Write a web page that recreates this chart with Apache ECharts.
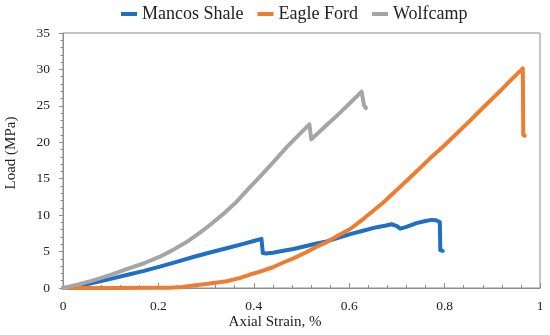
<!DOCTYPE html>
<html>
<head>
<meta charset="utf-8">
<script src="https://cdn.jsdelivr.net/npm/echarts@6/dist/echarts.min.js"></script>
<style>html,body{margin:0;padding:0;background:#fff}#c{width:550px;height:335px}</style>
</head>
<body>
<div id="c"></div>
<script>
const seriesNames = ['Mancos Shale', 'Eagle Ford', 'Wolfcamp'];
const xTicks = [0, 0.2, 0.4, 0.6, 0.8, 1];
const yTicks = [0, 5, 10, 15, 20, 25, 30, 35];

const mancosStrain = [0, 0.03, 0.0635, 0.10, 0.1335, 0.17, 0.203, 0.24, 0.273, 0.31, 0.343, 0.38, 0.40, 0.416, 0.419, 0.426, 0.44, 0.462, 0.483, 0.532, 0.553, 0.602, 0.623, 0.658, 0.675, 0.689, 0.70, 0.707, 0.72, 0.741, 0.76, 0.773, 0.782, 0.790, 0.791, 0.796];
const mancosLoad   = [0, 0.25, 0.73, 1.25, 1.78, 2.35, 2.93, 3.62, 4.25, 4.9, 5.45, 6.1, 6.45, 6.75, 4.8, 4.75, 4.85, 5.1, 5.35, 6.1, 6.4, 7.4, 7.75, 8.35, 8.55, 8.75, 8.5, 8.15, 8.4, 8.9, 9.2, 9.35, 9.3, 9.05, 5.2, 5.1];

const eagleStrain = [0, 0.1, 0.2, 0.224, 0.25, 0.273, 0.30, 0.343, 0.37, 0.392, 0.413, 0.44, 0.462, 0.483, 0.51, 0.532, 0.553, 0.570, 0.602, 0.63, 0.671, 0.707, 0.741, 0.776, 0.80, 0.846, 0.88, 0.916, 0.94, 0.964, 0.965, 0.968];
const eagleLoad   = [0, 0, 0.02, 0.05, 0.15, 0.35, 0.55, 0.93, 1.35, 1.85, 2.24, 2.85, 3.5, 4.07, 4.9, 5.67, 6.3, 6.95, 8.1, 9.5, 11.7, 13.9, 16.0, 18.2, 19.6, 22.5, 24.7, 27.0, 28.6, 30.15, 21.0, 20.9];

const wolfStrain = [0, 0.03, 0.0635, 0.10, 0.1335, 0.17, 0.203, 0.23, 0.259, 0.285, 0.308, 0.335, 0.364, 0.39, 0.413, 0.44, 0.47, 0.497, 0.5165, 0.5205, 0.55, 0.58, 0.605, 0.626, 0.631, 0.635];
const wolfLoad   = [0, 0.45, 1.05, 1.8, 2.6, 3.4, 4.3, 5.2, 6.3, 7.5, 8.65, 10.1, 11.85, 13.7, 15.3, 17.2, 19.4, 21.2, 22.45, 20.4, 22.2, 24.0, 25.6, 26.95, 25.1, 24.7];

const colors = ['#1f6fc2', '#ed7d31', '#a5a5a5'];
const font = "'Liberation Serif', 'Times New Roman', serif";

function pairs(xs, ys) { return xs.map((x, i) => [x, ys[i]]); }
const allData = [pairs(mancosStrain, mancosLoad), pairs(eagleStrain, eagleLoad), pairs(wolfStrain, wolfLoad)];

const chart = echarts.init(document.getElementById('c'), null, {renderer: 'canvas'});
chart.setOption({
  animation: false,
  color: colors,
  textStyle: {fontFamily: font},
  grid: {left: 63, right: 10, top: 33, bottom: 47, show: true, borderColor: '#8c8c8c', borderWidth: 1, backgroundColor: 'transparent'},
  legend: {
    data: seriesNames,
    left: 116, top: 0,
    icon: 'rect', itemWidth: 16, itemHeight: 4, itemGap: 14,
    textStyle: {fontFamily: font, fontSize: 18, color: '#222'}
  },
  xAxis: {
    type: 'value', min: xTicks[0], max: xTicks[xTicks.length - 1], interval: 0.2,
    axisLine: {show: true, lineStyle: {color: '#8c8c8c', width: 1}},
    axisTick: {show: true, inside: true, length: 5, lineStyle: {color: '#8c8c8c'}},
    minorTick: {show: true, splitNumber: 5, length: 3, lineStyle: {color: '#8c8c8c'}},
    splitLine: {show: false},
    axisLabel: {fontFamily: font, fontSize: 13.5, color: '#222', margin: 11}
  },
  yAxis: {
    type: 'value', min: yTicks[0], max: yTicks[yTicks.length - 1], interval: 5,
    axisLine: {show: true, lineStyle: {color: '#8c8c8c', width: 1}},
    axisTick: {show: true, inside: false, length: 4, lineStyle: {color: '#8c8c8c'}},
    minorTick: {show: true, splitNumber: 5, length: 2.5, lineStyle: {color: '#8c8c8c'}},
    splitLine: {show: false},
    axisLabel: {fontFamily: font, fontSize: 13.5, color: '#222', margin: 13}
  },
  graphic: [
    {type: 'text', left: 'center', top: 315, style: {text: 'Axial Strain, %', font: "15px 'Liberation Serif', serif", fill: '#222'}},
    {type: 'text', x: 4, y: 153, rotation: Math.PI / 2, style: {text: 'Load (MPa)', font: "15px 'Liberation Serif', serif", fill: '#222', align: 'center', verticalAlign: 'top'}}
  ],
  series: seriesNames.map((n, i) => ({
    name: n, type: 'line', data: allData[i], showSymbol: false, symbol: 'none',
    lineStyle: {width: 4, color: colors[i], cap: 'round', join: 'round'},
    smooth: false
  }))
});
</script>
</body>
</html>
